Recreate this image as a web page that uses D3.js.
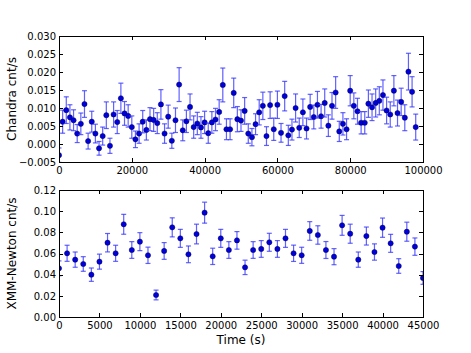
<!DOCTYPE html>
<meta charset="utf-8">
<style>

body {
  margin: 0;
  background: #fff;
}

svg text {
  font-family: "DejaVu Sans", sans-serif;
}

.axis path {
  display: none;
}

.axis line {
  stroke: #000;
  shape-rendering: crispEdges;
}

.axis text {
  font-family: "DejaVu Sans", sans-serif;
  font-size: 10px;
  fill: #000;
}

.frame {
  fill: none;
  stroke: #000;
  shape-rendering: crispEdges;
}

.err {
  stroke: #3a3aff;
  stroke-opacity: .8;
  stroke-width: 1.2;
}

.dot {
  fill: #0000dd;
  stroke: #000050;
  stroke-width: .5;
}

.label {
  font-size: 12px;
  fill: #000;
}

</style>
<body>
<script src="https://cdn.jsdelivr.net/npm/d3@7"></script>
<script>

// Chandra light curve (time in s, rate and error in cnt/s)
var chandraTime = [
  0, 1000, 2000, 3000, 4000, 5000, 6000, 7000, 8000, 9000,
  10000, 11000, 12000, 13000, 14000, 15000, 16000, 17000, 18000, 19000,
  20000, 21000, 22000, 23000, 24000, 25000, 26000, 27000, 28000, 29000,
  30000, 31000, 32000, 33000, 34000, 35000, 36000, 37000, 38000, 39000,
  40000, 41000, 42000, 43000, 44000, 45000, 46000, 47000, 48000, 49000,
  50000, 51000, 52000, 53000, 54000, 55000, 56000, 57000, 58000, 59000,
  60000, 61000, 62000, 63000, 64000, 65000, 66000, 67000, 68000, 69000,
  70000, 71000, 72000, 73000, 74000, 75000, 76000, 77000, 78000, 79000,
  80000, 81000, 82000, 83000, 84000, 85000, 86000, 87000, 88000, 89000,
  90000, 91000, 92000, 93000, 94000, 95000, 96000, 97000, 98000];

var chandraRate = [
  -0.0031, 0.0062, 0.0094, 0.0074, 0.0066, 0.0029, 0.0056, 0.0111, 0.0008, 0.0062,
  0.0029, -0.0012, 0.0022, 0.0080, -0.0005, 0.0082, 0.0061, 0.0127, 0.0085, 0.0078,
  0.0047, 0.0013, 0.0029, 0.0062, 0.0039, 0.0069, 0.0067, 0.0058, 0.0110, 0.0029,
  0.0076, 0.0009, 0.0066, 0.0165, 0.0038, 0.0063, 0.0103, 0.0047, 0.0057, 0.0046,
  0.0060, 0.0030, 0.0060, 0.0068, 0.0089, 0.0164, 0.0041, 0.0041, 0.0142, 0.0069,
  0.0065, 0.0092, 0.0029, 0.0019, 0.0055, 0.0088, 0.0106, 0.0022, 0.0108, 0.0041,
  0.0109, 0.0031, 0.0133, 0.0024, 0.0040, 0.0100, 0.0045, 0.0088, 0.0043, 0.0103,
  0.0075, 0.0109, 0.0077, 0.0114, 0.0051, 0.0106, 0.0143, 0.0035, 0.0056, 0.0041,
  0.0148, 0.0106, 0.0091, 0.0059, 0.0059, 0.0112, 0.0102, 0.0114, 0.0120, 0.0136,
  0.0093, 0.0082, 0.0148, 0.0086, 0.0117, 0.0073, 0.0201, 0.0145, 0.0047];

var chandraErr = [
  0.0020, 0.0032, 0.0037, 0.0035, 0.0029, 0.0025, 0.0030, 0.0037, 0.0022, 0.0029,
  0.0026, 0.0019, 0.0025, 0.0037, 0.0021, 0.0035, 0.0032, 0.0042, 0.0033, 0.0031,
  0.0031, 0.0023, 0.0027, 0.0031, 0.0028, 0.0032, 0.0032, 0.0029, 0.0041, 0.0027,
  0.0032, 0.0021, 0.0034, 0.0047, 0.0029, 0.0031, 0.0036, 0.0031, 0.0031, 0.0030,
  0.0031, 0.0028, 0.0030, 0.0031, 0.0034, 0.0047, 0.0029, 0.0029, 0.0041, 0.0035,
  0.0030, 0.0037, 0.0027, 0.0024, 0.0029, 0.0035, 0.0038, 0.0026, 0.0037, 0.0031,
  0.0038, 0.0026, 0.0041, 0.0028, 0.0029, 0.0039, 0.0027, 0.0037, 0.0029, 0.0035,
  0.0033, 0.0037, 0.0033, 0.0039, 0.0030, 0.0037, 0.0044, 0.0028, 0.0031, 0.0029,
  0.0042, 0.0036, 0.0036, 0.0031, 0.0031, 0.0038, 0.0037, 0.0039, 0.0039, 0.0042,
  0.0037, 0.0035, 0.0042, 0.0036, 0.0038, 0.0036, 0.0051, 0.0042, 0.0036];

// XMM-Newton light curve
var xmmTime = [
  0, 1000, 2000, 3000, 4000, 5000, 6000, 7000, 8000, 9000,
  10000, 11000, 12000, 13000, 14000, 15000, 16000, 17000, 18000, 19000,
  20000, 21000, 22000, 23000, 24000, 25000, 26000, 27000, 28000, 29000,
  30000, 31000, 32000, 33000, 34000, 35000, 36000, 37000, 38000, 39000,
  40000, 41000, 42000, 43000, 44000, 45000];

var xmmRate = [
  0.0460, 0.0602, 0.0542, 0.0501, 0.0400, 0.0523, 0.0702, 0.0602, 0.0876, 0.0633,
  0.0712, 0.0583, 0.0208, 0.0624, 0.0847, 0.0743, 0.0592, 0.0784, 0.0986, 0.0573,
  0.0743, 0.0633, 0.0724, 0.0469, 0.0633, 0.0643, 0.0706, 0.0643, 0.0743, 0.0602,
  0.0583, 0.0813, 0.0775, 0.0633, 0.0570, 0.0866, 0.0787, 0.0542, 0.0765, 0.0614,
  0.0844, 0.0696, 0.0482, 0.0806, 0.0665, 0.0369];

var xmmErr = [
  0.0070, 0.0076, 0.0072, 0.0069, 0.0063, 0.0071, 0.0087, 0.0076, 0.0094, 0.0079,
  0.0085, 0.0077, 0.0046, 0.0079, 0.0090, 0.0085, 0.0079, 0.0093, 0.0099, 0.0077,
  0.0085, 0.0079, 0.0083, 0.0068, 0.0079, 0.0079, 0.0085, 0.0079, 0.0085, 0.0077,
  0.0076, 0.0088, 0.0087, 0.0080, 0.0076, 0.0094, 0.0090, 0.0072, 0.0085, 0.0077,
  0.0091, 0.0085, 0.0069, 0.0090, 0.0082, 0.0060];

var chandraYTicks = [-0.005, 0, 0.005, 0.010, 0.015, 0.020, 0.025, 0.030];
var chandraXTicks = [0, 20000, 40000, 60000, 80000, 100000];
var xmmYTicks = [0, 0.02, 0.04, 0.06, 0.08, 0.10, 0.12];
var xmmXTicks = [0, 5000, 10000, 15000, 20000, 25000, 30000, 35000, 40000, 45000];

var width = 471, height = 353;
var left = 59, right = 423;

var svg = d3.select("body").append("svg")
    .attr("width", width)
    .attr("height", height);

function panel(id, top, bottom, xDomain, yDomain, xTicks, yTicks, yFmt, time, rate, err, ylabel) {
  var x = d3.scaleLinear().domain(xDomain).range([left, right]);
  var y = d3.scaleLinear().domain(yDomain).range([bottom, top]);

  svg.append("clipPath").attr("id", id)
    .append("rect")
      .attr("x", left).attr("y", top)
      .attr("width", right - left).attr("height", bottom - top);

  var data = time.map(function(t, i) { return {t: t, v: rate[i], e: err[i]}; });

  var g = svg.append("g").attr("clip-path", "url(#" + id + ")");

  var pts = g.selectAll("g.pt")
      .data(data)
    .enter().append("g")
      .attr("class", "pt");

  pts.append("line")
      .attr("class", "err")
      .attr("x1", function(d) { return x(d.t); })
      .attr("x2", function(d) { return x(d.t); })
      .attr("y1", function(d) { return y(d.v - d.e); })
      .attr("y2", function(d) { return y(d.v + d.e); });

  [-1, 1].forEach(function(s) {
    pts.append("line")
        .attr("class", "err")
        .attr("x1", function(d) { return x(d.t) - 2.5; })
        .attr("x2", function(d) { return x(d.t) + 2.5; })
        .attr("y1", function(d) { return y(d.v + s * d.e); })
        .attr("y2", function(d) { return y(d.v + s * d.e); });
  });

  pts.append("circle")
      .attr("class", "dot")
      .attr("cx", function(d) { return x(d.t); })
      .attr("cy", function(d) { return y(d.v); })
      .attr("r", 2.6);

  // inward ticks on all four sides
  svg.append("g")
      .attr("class", "axis")
      .attr("transform", "translate(0," + bottom + ")")
      .call(d3.axisBottom(x).tickValues(xTicks).tickSize(-4).tickPadding(5).tickFormat(d3.format("d")));
  svg.append("g")
      .attr("class", "axis")
      .attr("transform", "translate(0," + top + ")")
      .call(d3.axisTop(x).tickValues(xTicks).tickSize(-4).tickFormat(""));
  svg.append("g")
      .attr("class", "axis")
      .attr("transform", "translate(" + left + ",0)")
      .call(d3.axisLeft(y).tickValues(yTicks).tickSize(-4).tickPadding(3).tickFormat(yFmt));
  svg.append("g")
      .attr("class", "axis")
      .attr("transform", "translate(" + right + ",0)")
      .call(d3.axisRight(y).tickValues(yTicks).tickSize(-4).tickFormat(""));

  svg.append("rect")
      .attr("class", "frame")
      .attr("x", left + 0.5).attr("y", top + 0.5)
      .attr("width", right - left).attr("height", bottom - top);

  svg.append("text")
      .attr("class", "label")
      .attr("transform", "translate(16," + ((top + bottom) / 2) + ") rotate(-90)")
      .attr("text-anchor", "middle")
      .text(ylabel);

  return x;
}

panel("clipTop", 36, 162, [0, 100000], [-0.005, 0.030], chandraXTicks, chandraYTicks,
      d3.format(".3f"), chandraTime, chandraRate, chandraErr, "Chandra cnt/s");

panel("clipBot", 190, 317, [0, 45000], [0, 0.12], xmmXTicks, xmmYTicks,
      d3.format(".2f"), xmmTime, xmmRate, xmmErr, "XMM-Newton cnt/s");

svg.append("text")
    .attr("class", "label")
    .attr("x", (left + right) / 2)
    .attr("y", 344)
    .attr("text-anchor", "middle")
    .text("Time (s)");

</script>
